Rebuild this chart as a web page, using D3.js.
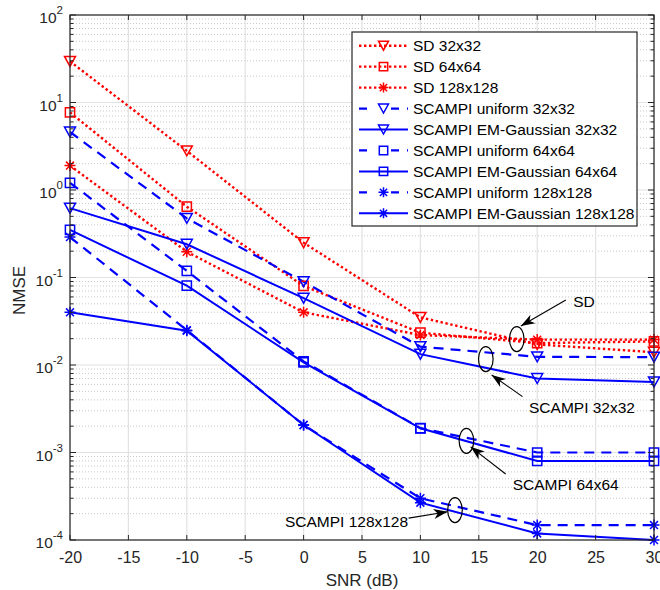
<!DOCTYPE html>
<html>
<head>
<meta charset="utf-8">
<script src="https://cdn.jsdelivr.net/npm/d3@7"></script>
<style>
html,body{margin:0;padding:0;background:#fff;}
svg{display:block;font-family:"Liberation Sans",Arial,Helvetica,sans-serif;}
</style>
</head>
<body>
<svg id="chart" width="660" height="590"></svg>
<script>
// ---------- data ----------
const snr = [-20, -10, 0, 10, 20, 30];
const sd32 = [29.5, 2.8, 0.25, 0.035, 0.0172, 0.0140];
const sd64 = [7.7, 0.645, 0.080, 0.0234, 0.0178, 0.0186];
const sd128 = [1.9, 0.197, 0.040, 0.022, 0.0195, 0.0195];
const unif32 = [4.6, 0.474, 0.0895, 0.0162, 0.0124, 0.0123];
const em32 = [0.62, 0.24, 0.058, 0.0133, 0.0070, 0.0064];
const unif64 = [1.21, 0.119, 0.011, 0.0019, 0.0010, 0.0010];
const em64 = [0.35, 0.0806, 0.0107, 0.00189, 0.0008, 0.0008];
const unif128 = [0.29, 0.025, 0.00206, 0.00030, 0.000148, 0.000148];
const em128 = [0.040, 0.0247, 0.00206, 0.000267, 0.000119, 0.0001];

const seriesNames = ["SD 32x32","SD 64x64","SD 128x128","SCAMPI uniform 32x32","SCAMPI EM-Gaussian 32x32",
  "SCAMPI uniform 64x64","SCAMPI EM-Gaussian 64x64","SCAMPI uniform 128x128","SCAMPI EM-Gaussian 128x128"];
const seriesValues = [sd32, sd64, sd128, unif32, em32, unif64, em64, unif128, em128];
const seriesColor = ["red","red","red","blue","blue","blue","blue","blue","blue"];
const seriesStyle = ["dot","dot","dot","dash","solid","dash","solid","dash","solid"];
const seriesMarker = ["tri","sq","star","tri","tri","sq","sq","star","star"];

const xTicks = [-20, -15, -10, -5, 0, 5, 10, 15, 20, 25, 30];
const yDecades = [-4, -3, -2, -1, 0, 1, 2];

// annotations
const annLabels = ["SD", "SCAMPI 32x32", "SCAMPI 64x64", "SCAMPI 128x128"];
const annText = [[24.0, 0.0525, "middle"], [19.3, 0.00323, "start"], [17.9, 0.000426, "start"], [8.95, 0.000162, "end"]];
const annArrow = [[22.45, 0.0553, 18.6, 0.0279], [18.74, 0.00435, 16.1, 0.0077], [17.3, 0.000568, 14.3, 0.00116], [8.99, 0.000178, 12.33, 0.00021]];
const annEllipse = [[18.25, 0.0198], [15.6, 0.0117], [13.94, 0.00136], [12.96, 0.00022]];

// ---------- layout ----------
const L = 70, R = 654, T = 15, B = 540;
const svg = d3.select("#chart");
const x = d3.scaleLinear().domain([-20, 30]).range([L, R]);
const y = d3.scaleLog().domain([1e-4, 1e2]).range([B, T]);
const axisColor = "#262626";
const font = '"Liberation Sans",Arial,Helvetica,sans-serif';

// ---------- grid ----------
const grid = svg.append("g");
const minorVals = [];
yDecades.slice(0, -1).forEach(d => { for (let k = 2; k <= 9; k++) minorVals.push(k * Math.pow(10, d)); });
grid.selectAll(".mg").data(minorVals).enter().append("line")
  .attr("x1", L).attr("x2", R).attr("y1", d => y(d)).attr("y2", d => y(d))
  .attr("stroke", "#c8c8c8").attr("stroke-width", 1).attr("stroke-dasharray", "1,2");
grid.selectAll(".gx").data(xTicks).enter().append("line")
  .attr("x1", d => x(d)).attr("x2", d => x(d)).attr("y1", T).attr("y2", B)
  .attr("stroke", "#e2e2e2").attr("stroke-width", 1.2);
grid.selectAll(".gy").data(yDecades.map(d => Math.pow(10, d))).enter().append("line")
  .attr("x1", L).attr("x2", R).attr("y1", d => y(d)).attr("y2", d => y(d))
  .attr("stroke", "#e2e2e2").attr("stroke-width", 1.2);

// ---------- lines ----------
const dashes = { dot: "2.4,2.6", dash: "10,7", solid: null };
const widths = { dot: 2.4, dash: 2.2, solid: 2.0 };
const line = d3.line().x((d, i) => x(snr[i])).y(d => y(d));
const plot = svg.append("g");

function markerPath(type, s) {
  if (type === "tri") {
    const h = s * 0.9;
    return `M${-s/2},${-h/2}L${s/2},${-h/2}L0,${h/2}Z`;
  }
  if (type === "sq") {
    const a = s * 0.42;
    return `M${-a},${-a}L${a},${-a}L${a},${a}L${-a},${a}Z`;
  }
  const r = s / 2, q = r * 0.72;
  return `M0,${-r}L0,${r}M${-r},0L${r},0M${-q},${-q}L${q},${q}M${-q},${q}L${q},${-q}`;
}

seriesValues.forEach((vals, si) => {
  plot.append("path").datum(vals)
    .attr("d", line).attr("fill", "none")
    .attr("stroke", seriesColor[si]).attr("stroke-width", widths[seriesStyle[si]])
    .attr("stroke-dasharray", dashes[seriesStyle[si]]);
});
seriesValues.forEach((vals, si) => {
  plot.selectAll(null).data(vals).enter().append("path")
    .attr("transform", (d, i) => `translate(${x(snr[i])},${y(d)})`)
    .attr("d", markerPath(seriesMarker[si], 11))
    .attr("fill", "none").attr("stroke", seriesColor[si]).attr("stroke-width", 1.5);
});

// ---------- axes ----------
const ax = svg.append("g");
ax.append("rect").attr("x", L).attr("y", T).attr("width", R - L).attr("height", B - T)
  .attr("fill", "none").attr("stroke", axisColor).attr("stroke-width", 1.2);
const xb = d3.axisBottom(x).tickValues(xTicks).tickSize(0).tickPadding(12).tickFormat(d => String(d));
const gxb = ax.append("g").attr("transform", `translate(0,${B})`).call(xb);
gxb.select(".domain").remove();
gxb.selectAll("text").attr("font-size", 16).attr("font-family", font).attr("fill", axisColor);
ax.selectAll(".xt").data(xTicks).enter().append("line")
  .attr("x1", d => x(d)).attr("x2", d => x(d)).attr("y1", B).attr("y2", B - 5)
  .attr("stroke", axisColor).attr("stroke-width", 1);
ax.selectAll(".xtt").data(xTicks).enter().append("line")
  .attr("x1", d => x(d)).attr("x2", d => x(d)).attr("y1", T).attr("y2", T + 5)
  .attr("stroke", axisColor).attr("stroke-width", 1);
const yMaj = yDecades.map(d => Math.pow(10, d));
[[L, 1], [R, -1]].forEach(([px, dir]) => {
  ax.selectAll(null).data(yMaj).enter().append("line")
    .attr("x1", px).attr("x2", px + dir * 6).attr("y1", d => y(d)).attr("y2", d => y(d))
    .attr("stroke", axisColor).attr("stroke-width", 1);
  ax.selectAll(null).data(minorVals).enter().append("line")
    .attr("x1", px).attr("x2", px + dir * 3.5).attr("y1", d => y(d)).attr("y2", d => y(d))
    .attr("stroke", axisColor).attr("stroke-width", 1);
});
const yl = ax.selectAll(".yl").data(yDecades).enter().append("text")
  .attr("x", L - 7).attr("y", d => y(Math.pow(10, d)) + 8)
  .attr("text-anchor", "end").attr("font-size", 15.5).attr("font-family", font).attr("fill", axisColor);
yl.append("tspan").text("10");
yl.append("tspan").attr("dy", -9).attr("font-size", 11.5).text(d => String(d).replace("\u2212", "-"));

svg.append("text").attr("x", (L + R) / 2).attr("y", 586).attr("text-anchor", "middle")
  .attr("font-size", 17).attr("font-family", font).attr("fill", axisColor).text("SNR (dB)");
svg.append("text").attr("transform", `translate(25,${(T + B) / 2 + 13}) rotate(-90)`).attr("text-anchor", "middle")
  .attr("font-size", 17).attr("font-family", font).attr("fill", axisColor).text("NMSE");

// ---------- legend ----------
const lg = svg.append("g");
const lgX = 352, lgY = 32, lgW = 285, lgH = 194, rowH = 20.95;
lg.append("rect").attr("x", lgX).attr("y", lgY).attr("width", lgW).attr("height", lgH)
  .attr("fill", "#fff").attr("stroke", "#262626").attr("stroke-width", 1.2);
seriesNames.forEach((name, si) => {
  const cy = lgY + 13.7 + si * rowH;
  lg.append("line").attr("x1", 359).attr("x2", 408).attr("y1", cy).attr("y2", cy)
    .attr("stroke", seriesColor[si]).attr("stroke-width", widths[seriesStyle[si]])
    .attr("stroke-dasharray", seriesStyle[si] === "dash" ? "8,9.5,0,14.5,8" : dashes[seriesStyle[si]]);
  lg.append("path").attr("transform", `translate(383.5,${cy})`)
    .attr("d", markerPath(seriesMarker[si], 10))
    .attr("fill", "none").attr("stroke", seriesColor[si]).attr("stroke-width", 1.5);
  lg.append("text").attr("x", 413).attr("y", cy + 5.5).attr("font-size", 15.5)
    .attr("font-family", font).attr("fill", "#000").text(name);
});

// ---------- annotations ----------
const an = svg.append("g");
annLabels.forEach((lab, i) => {
  const [ex, ey] = annEllipse[i];
  an.append("ellipse").attr("cx", x(ex)).attr("cy", y(ey)).attr("rx", 7.3).attr("ry", 12.5)
    .attr("fill", "none").attr("stroke", "#000").attr("stroke-width", 1.2);
  const [fx, fy, tx, ty] = annArrow[i];
  const x1 = x(fx), y1 = y(fy), x2 = x(tx), y2 = y(ty);
  const ang = Math.atan2(y2 - y1, x2 - x1) * 180 / Math.PI;
  an.append("line").attr("x1", x1).attr("y1", y1).attr("x2", x2).attr("y2", y2)
    .attr("stroke", "#000").attr("stroke-width", 1.1);
  an.append("path").attr("d", "M0,0L-14,-5L-10,0L-14,5Z")
    .attr("transform", `translate(${x2},${y2}) rotate(${ang})`).attr("fill", "#000");
  const [tx0, ty0, anc] = annText[i];
  an.append("text").attr("x", x(tx0)).attr("y", y(ty0) + 5.5).attr("text-anchor", anc)
    .attr("font-size", 15.5).attr("font-family", font).attr("fill", "#000").text(lab);
});
</script>
</body>
</html>
